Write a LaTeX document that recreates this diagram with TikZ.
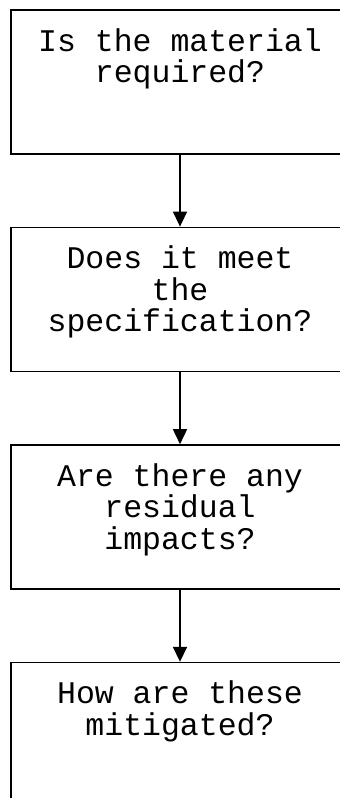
\documentclass[tikz,border=0pt]{standalone}
\usepackage{fontspec}
\setmonofont{Liberation Mono}
\usepackage{tikz}
\usetikzlibrary{positioning,arrows.meta}
\tikzset{
  qbox/.style={draw=black, fill=white, rectangle, minimum width=338pt,
    minimum height=144pt, inner sep=0pt, line width=1.6pt},
  qtext/.style={align=center, inner sep=0pt, text=black,
    font=\ttfamily\fontsize{31.5}{31.5}\selectfont},
  flow/.style={-{Triangle[width=14pt,length=15pt]}, line width=1.6pt, draw=black},
}
\begin{document}
\begin{tikzpicture}[x=1pt, y=1pt, node distance=72pt]
  \useasboundingbox (0,0) rectangle (340,-798);
  \node[qbox, anchor=north] (mat) at (180,-9) {};
  \node[qbox, below=of mat] (spec) {};
  \node[qbox, below=of spec] (resid) {};
  \node[qbox, below=of resid] (mitig) {};
  \node[qtext, below=19pt of mat.north] (matq) {Is the material\\required?};
  \node[qtext, below=19pt of spec.north] (specq) {Does it meet\\the\\specification?};
  \node[qtext, below=19pt of resid.north] (residq) {Are there any\\residual\\impacts?};
  \node[qtext, below=19pt of mitig.north] (mitigq) {How are these\\mitigated?};
  \draw[flow] (mat) -- (spec);
  \draw[flow] (spec) -- (resid);
  \draw[flow] (resid) -- (mitig);
\end{tikzpicture}
\end{document}
